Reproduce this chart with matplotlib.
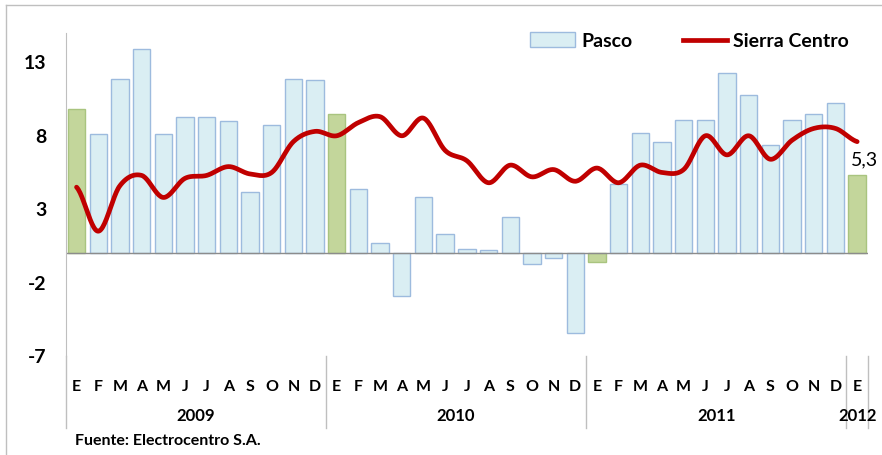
import numpy as np
import matplotlib
matplotlib.use('Agg')
import matplotlib.pyplot as plt
from matplotlib.lines import Line2D
from matplotlib.patches import Patch
import matplotlib.transforms as mtransforms

plt.rcParams['font.family'] = ['Lato', 'DejaVu Sans']
plt.rcParams['axes.unicode_minus'] = False

# ── Data ──────────────────────────────────────────────────────────────────
months = ['E', 'F', 'M', 'A', 'M', 'J', 'J', 'A', 'S', 'O', 'N', 'D'] * 3 + ['E']
years = ['2009', '2010', '2011', '2012']
year_sizes = [12, 12, 12, 1]

pasco = [9.8, 8.1, 11.9, 13.9, 8.1, 9.3, 9.3, 9.0, 4.2, 8.7, 11.9, 11.8,
         9.5, 4.4, 0.7, -2.9, 3.8, 1.3, 0.3, 0.2, 2.5, -0.7, -0.3, -5.4,
         -0.6, 4.7, 8.2, 7.6, 9.1, 9.1, 12.3, 10.8, 7.4, 9.1, 9.5, 10.2,
         5.3]
sierra = [4.5, 1.5, 4.6, 5.3, 3.8, 5.1, 5.3, 5.9, 5.4, 5.5, 7.6, 8.3,
          8.0, 8.9, 9.3, 8.0, 9.2, 7.0, 6.3, 4.8, 6.0, 5.2, 5.7, 4.9,
          5.8, 4.8, 6.0, 5.5, 5.7, 8.0, 6.7, 8.0, 6.4, 7.7, 8.5, 8.5,
          7.6]

BLUE_FILL, BLUE_EDGE = '#DAEEF3', '#9DBBDE'
GREEN_FILL, GREEN_EDGE = '#C3D69B', '#A9C47F'
RED = '#C00000'


def smooth(y, n=24):
    # Catmull-Rom curve through the points (like Excel's smoothed line)
    y = np.asarray(y, float)
    p = np.concatenate([[y[0]], y, [y[-1]]])
    xs, ys = [], []
    t = np.linspace(0, 1, n, endpoint=False)
    for i in range(len(y) - 1):
        p0, p1, p2, p3 = p[i], p[i + 1], p[i + 2], p[i + 3]
        seg = 0.5 * ((2 * p1) + (-p0 + p2) * t + (2 * p0 - 5 * p1 + 4 * p2 - p3) * t ** 2
                     + (-p0 + 3 * p1 - 3 * p2 + p3) * t ** 3)
        xs.extend(i + t)
        ys.extend(seg)
    xs.append(len(y) - 1)
    ys.append(y[-1])
    return np.array(xs), np.array(ys)


fig = plt.figure(figsize=(8.82, 4.55), dpi=100)
ax = fig.add_axes([65.7 / 882, 1 - 356 / 455, (868 - 65.7) / 882, (356 - 33) / 455])

x = np.arange(len(pasco))
is_jan = [m == 'E' and i % 12 == 0 for i, m in enumerate(months)]
fills = [GREEN_FILL if j else BLUE_FILL for j in is_jan]
edges = [GREEN_EDGE if j else BLUE_EDGE for j in is_jan]
ax.bar(x, pasco, width=0.8, color=fills, edgecolor=edges, linewidth=1.0, zorder=2)

sx, sy = smooth(sierra)
ax.plot(sx, sy, color=RED, linewidth=3.4, solid_capstyle='round', zorder=3)

ax.axhline(0, color='#8C8C8C', linewidth=1.0, zorder=2.5)
ax.text(x[-1] + 0.35, pasco[-1] + 0.5, '5,3', ha='center', va='bottom', fontsize=14)

ax.set_xlim(-0.5, len(pasco) - 0.5)
ax.set_ylim(-7, 15)
ax.set_yticks([-7, -2, 3, 8, 13])
ax.tick_params(axis='y', length=0, pad=14, labelsize=14)
for lab in ax.get_yticklabels():
    lab.set_fontweight('bold')
ax.set_xticks(x)
ax.set_xticklabels(months, fontsize=11.5, fontweight='bold')
ax.tick_params(axis='x', length=0, pad=17)

for s in ['top', 'right', 'bottom']:
    ax.spines[s].set_visible(False)
ax.spines['left'].set_color('#BFBFBF')

# multi-level category axis: separators and years
trans = mtransforms.blended_transform_factory(ax.transData, ax.transAxes)
edges_x = np.concatenate([[0], np.cumsum(year_sizes)]) - 0.5
for ex in edges_x:
    ax.add_line(Line2D([ex, ex], [0, -0.223], transform=trans, color='#BFBFBF',
                       linewidth=1.0, clip_on=False))
for yr, a, b in zip(years, edges_x[:-1], edges_x[1:]):
    ax.text((a + b) / 2, -0.186, yr, transform=trans, ha='center', va='center',
            fontsize=12, fontweight='bold')

handles = [Patch(facecolor=BLUE_FILL, edgecolor=BLUE_EDGE, label='Pasco'),
           Line2D([], [], color=RED, linewidth=3.4, label='Sierra Centro')]
fig.legend(handles=handles, loc='center right', bbox_to_anchor=(849 / 882, 1 - 41 / 455),
           ncol=2, frameon=False, handlelength=2.3, handleheight=0.8,
           handletextpad=0.3, columnspacing=2.6, borderpad=0, borderaxespad=0,
           prop={'weight': 'bold', 'size': 14})

fig.text(75 / 882, 1 - 441 / 455, 'Fuente: Electrocentro S.A.', fontsize=11.5,
         fontweight='bold', va='center', ha='left')

# frame of the original picture (top and left edges)
fig.add_artist(Line2D([6 / 882, 1], [1 - 5 / 455, 1 - 5 / 455], transform=fig.transFigure,
                      color='#BFBFBF', linewidth=1.0))
fig.add_artist(Line2D([6 / 882, 6 / 882], [0, 1 - 5 / 455], transform=fig.transFigure,
                      color='#BFBFBF', linewidth=1.0))

fig.savefig('out.png', dpi=100)
